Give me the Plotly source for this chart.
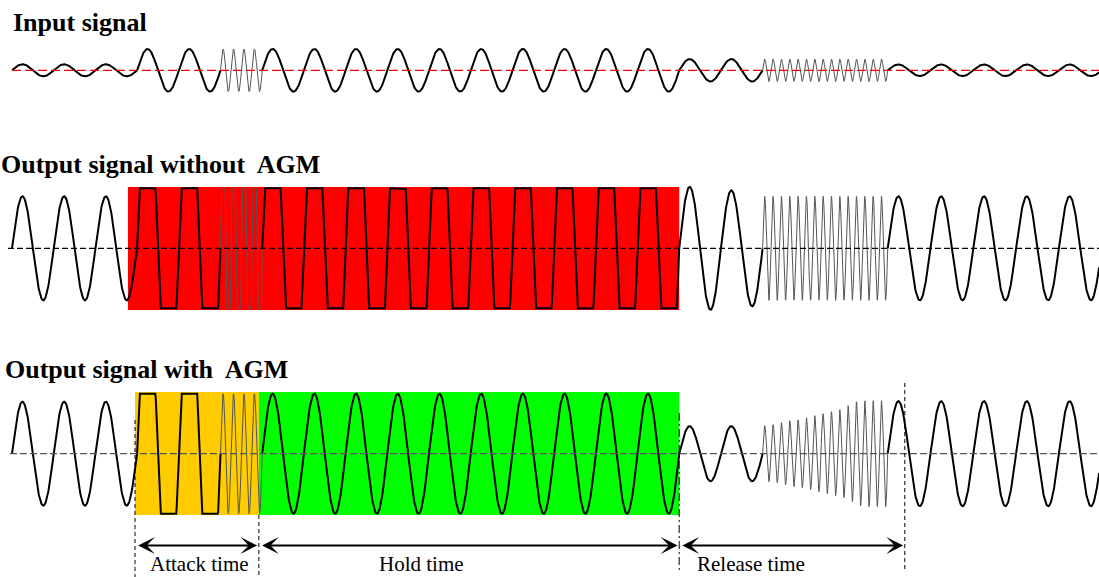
import numpy as np
import plotly.graph_objects as go

# ---------------- data (time in carrier periods) ----------------
seg_edges = [0, 3, 5, 6, 16, 18, 21, 26.07]
seg_cycles = [3, 2, 4, 10, 2, 15, 4.94]
seg_fast = [False, False, True, False, False, True, False]

input_amp = [6, 21.3, 21.3, 21.3, 11.2, 11.2, 5.8]
input_clip = [None] * 7

noagm_amp = [52, 170, 170, 170, [61.5, 58], 52, 52]
noagm_clip = [None, 60, 60, 60, None, None, None]

agm_amp = [52, 170, 60, 60, 27.5,
           [28, 29, 31, 33, 34, 36, 38, 40, 42, 44, 48, 52, 53, 53, 53],
           52.5]
agm_clip = [None, 60, None, None, None, None, None]

# attack start, attack end / hold start, hold end / release start, release end
marker_times = [2.95, 5.92, 16.0, 21.41]
clip_box_noagm = [2.78, 16.0]
phase_labels = ["Attack time", "Hold time", "Release time"]
row_titles = ["Input signal", "Output signal without\u00a0 AGM", "Output signal with\u00a0 AGM"]

# ---------------- layout constants ----------------
W, H = 1099, 577
X0_PX, PX_PER_T = 12, 41.7
BASE_PX = [70.3, 248.3, 453.7]          # baseline pixel row of each signal
YAX = ["y", "y2", "y3"]
FONT = "Liberation Serif, Times New Roman, serif"


def segment(t0, t1, cycles, amp, clip, fast):
    n = int(cycles * (40 if fast else 80)) + 20
    t = np.linspace(t0, t1, n)
    ph = cycles * (t - t0) / (t1 - t0)
    if isinstance(amp, list):
        idx = np.clip(np.floor(ph).astype(int), 0, len(amp) - 1)
        a = np.array(amp)[idx]
    else:
        a = amp
    y = a * np.sin(2 * np.pi * ph)
    if clip is not None:
        y = np.clip(y, -clip, clip)
    return t, y


fig = go.Figure()

rows = [(input_amp, input_clip), (noagm_amp, noagm_clip), (agm_amp, agm_clip)]
base_styles = [dict(color="#ff0000", width=1.3, dash="9px,4px"),
               dict(color="#000000", width=1.3, dash="6px,3px"),
               dict(color="#555555", width=1.3, dash="7px,3px")]
base_start = [0, -0.096, -0.05]

for r, (amps, clips) in enumerate(rows):
    for i in range(len(seg_cycles)):
        t, y = segment(seg_edges[i], seg_edges[i + 1], seg_cycles[i], amps[i], clips[i], seg_fast[i])
        if seg_fast[i]:
            line = dict(color="#555555", width=1)
        else:
            line = dict(color="#000000", width=2)
        fig.add_trace(go.Scatter(x=t, y=y, mode="lines", line=line, yaxis=YAX[r],
                                 hoverinfo="skip", showlegend=False))
    fig.add_trace(go.Scatter(x=[base_start[r], seg_edges[-1] + 1], y=[0, 0], mode="lines",
                             line=base_styles[r], yaxis=YAX[r], hoverinfo="skip", showlegend=False))

shapes = []
# clipping region without AGM
shapes.append(dict(type="rect", xref="x", yref="y2", x0=clip_box_noagm[0], x1=clip_box_noagm[1],
                   y0=-61.7, y1=61.3, fillcolor="#ff0000", line=dict(width=0), layer="below"))
# attack (orange) and hold (green) regions with AGM
shapes.append(dict(type="rect", xref="x", yref="y3", x0=marker_times[0], x1=marker_times[1],
                   y0=-61.3, y1=61.7, fillcolor="#ffcc00", line=dict(width=0), layer="below"))
shapes.append(dict(type="rect", xref="x", yref="y3", x0=marker_times[1], x1=marker_times[2],
                   y0=-61.3, y1=61.7, fillcolor="#00ff00", line=dict(width=0), layer="below"))
# vertical markers
v_extent = [(33.7, -125), (-61.3, -125), (40.7, -118.3), (70.7, -118.3)]
v_dash = ["4px,3px", "4px,3px", "8px,3px,2px,3px", "4px,3px"]
for tm, (ya, yb), d in zip(marker_times, v_extent, v_dash):
    shapes.append(dict(type="line", xref="x", yref="y3", x0=tm, x1=tm, y0=ya, y1=yb,
                       line=dict(color="#000000", width=1, dash=d)))

annotations = []
title_px = [(11, 22.9), (-1, 164.5), (3, 369.5)]
for txt, (px, py) in zip(row_titles, title_px):
    annotations.append(dict(text=txt, xref="paper", yref="paper", x=px / W, y=1 - py / H,
                            xanchor="left", yanchor="middle", showarrow=False,
                            font=dict(family=FONT, size=26, color="#000000", weight="bold")))

arrow_y = 453.7 - 545.5
inset = 0.04
for k in range(3):
    a0 = marker_times[k] + inset
    a1 = marker_times[k + 1] - inset
    annotations.append(dict(text="", xref="x", yref="y3", x=a1, y=arrow_y,
                            axref="x", ayref="y3", ax=a0, ay=arrow_y,
                            showarrow=True, arrowside="end+start", arrowhead=3,
                            arrowsize=1.4, arrowwidth=2, arrowcolor="#000000",
                            standoff=0, startstandoff=0))

label_px = [199, 421, 751]
for txt, px in zip(phase_labels, label_px):
    annotations.append(dict(text=txt, xref="paper", yref="paper", x=px / W, y=0,
                            xanchor="center", yanchor="bottom", showarrow=False,
                            borderpad=0, font=dict(family=FONT, size=21, color="#000000")))

ax_common = dict(visible=False, fixedrange=True)
fig.update_layout(
    width=W, height=H, margin=dict(l=0, r=0, t=0, b=0),
    paper_bgcolor="white", plot_bgcolor="white", showlegend=False,
    xaxis=dict(range=[-X0_PX / PX_PER_T, (W - X0_PX) / PX_PER_T], **ax_common),
    yaxis=dict(range=[BASE_PX[0] - H, BASE_PX[0]], **ax_common),
    yaxis2=dict(range=[BASE_PX[1] - H, BASE_PX[1]], overlaying="y", **ax_common),
    yaxis3=dict(range=[BASE_PX[2] - H, BASE_PX[2]], overlaying="y", **ax_common),
    shapes=shapes, annotations=annotations,
)

fig.write_html("out.html", config={"displayModeBar": False},
               post_script="document.body.style.margin='0';document.body.style.overflow='hidden';")
